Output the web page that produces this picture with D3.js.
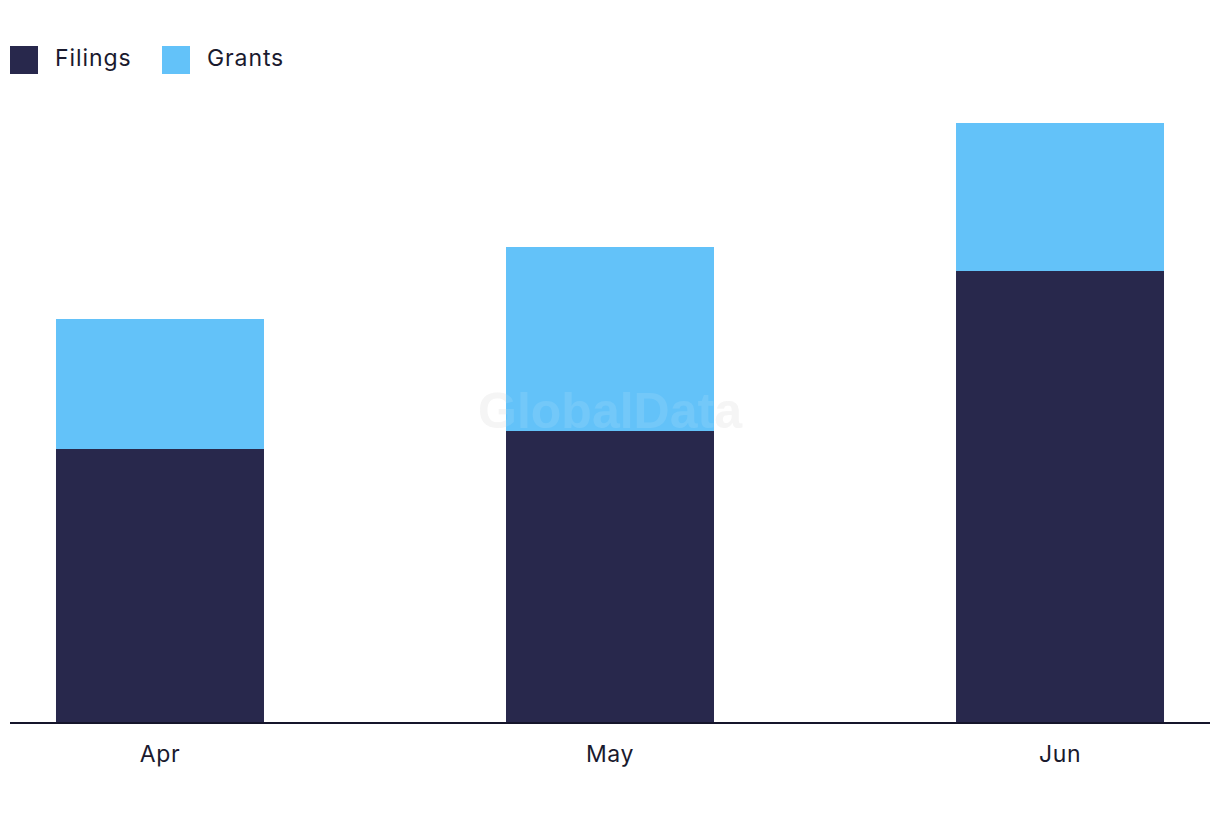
<!DOCTYPE html>
<html>
<head>
<meta charset="utf-8">
<script src="https://cdn.jsdelivr.net/npm/d3@7"></script>
<style>
  html, body { margin: 0; padding: 0; background: #ffffff; }
  svg { display: block; }
</style>
</head>
<body>
<svg id="chart" width="1220" height="822"></svg>
<script>
const categories = ["Apr", "May", "Jun"];
const seriesNames = ["Filings", "Grants"];
const filings = [137, 146, 226];
const grants = [65, 92, 74];
const colors = ["#28284c", "#63c2f9"];

const svg = d3.select("#chart");
const baseline = 723;

const data = categories.map((c, i) => ({ month: c, Filings: filings[i], Grants: grants[i] }));
const stack = d3.stack().keys(seriesNames)(data);

const x = d3.scaleBand()
  .domain(categories)
  .range([10, 1210])
  .paddingInner(0.5378)
  .paddingOuter(0.1022);

const y = d3.scaleLinear().domain([0, 300]).range([baseline, 123]);

// watermark (behind)
svg.append("text")
  .attr("x", 610).attr("y", 428)
  .attr("text-anchor", "middle")
  .attr("font-family", "Liberation Sans, Arial, sans-serif")
  .attr("font-weight", "bold")
  .attr("font-size", 50)
  .attr("fill", "#eeeeee")
  .attr("opacity", 0.6)
  .text("GlobalData");

const layers = svg.append("g").selectAll("g")
  .data(stack).enter().append("g")
  .attr("fill", (d, i) => colors[i]);

layers.selectAll("rect")
  .data(d => d).enter().append("rect")
  .attr("x", d => x(d.data.month))
  .attr("width", x.bandwidth())
  .attr("y", d => y(d[1]))
  .attr("height", d => y(d[0]) - y(d[1]));

// watermark over bars (faint)
svg.append("text")
  .attr("x", 610).attr("y", 428)
  .attr("text-anchor", "middle")
  .attr("font-family", "Liberation Sans, Arial, sans-serif")
  .attr("font-weight", "bold")
  .attr("font-size", 50)
  .attr("fill", "#ffffff")
  .attr("opacity", 0.1)
  .text("GlobalData");

// x axis
const xAxis = d3.axisBottom(x).tickSize(0).tickPadding(23);
const gx = svg.append("g")
  .attr("transform", `translate(0,${baseline})`)
  .call(xAxis);
gx.select(".domain").attr("stroke", "#15152b").attr("stroke-width", 2)
  .attr("d", "M10,0H1210");
gx.selectAll("text")
  .attr("font-family", "Inter, sans-serif")
  .attr("font-size", 23)
  .attr("letter-spacing", "0.6px")
  .attr("fill", "#1a1a2e");

// legend
const legend = svg.append("g");
const legendX = [10, 162];
seriesNames.forEach((name, i) => {
  const g = legend.append("g").attr("transform", `translate(${legendX[i]},46)`);
  g.append("rect").attr("width", 28).attr("height", 28).attr("fill", colors[i]);
  g.append("text")
    .attr("x", 45).attr("y", 20)
    .attr("font-family", "Inter, sans-serif")
    .attr("font-size", 23)
    .attr("letter-spacing", "0.9px")
    .attr("fill", "#1a1a2e")
    .text(name);
});
</script>
</body>
</html>
